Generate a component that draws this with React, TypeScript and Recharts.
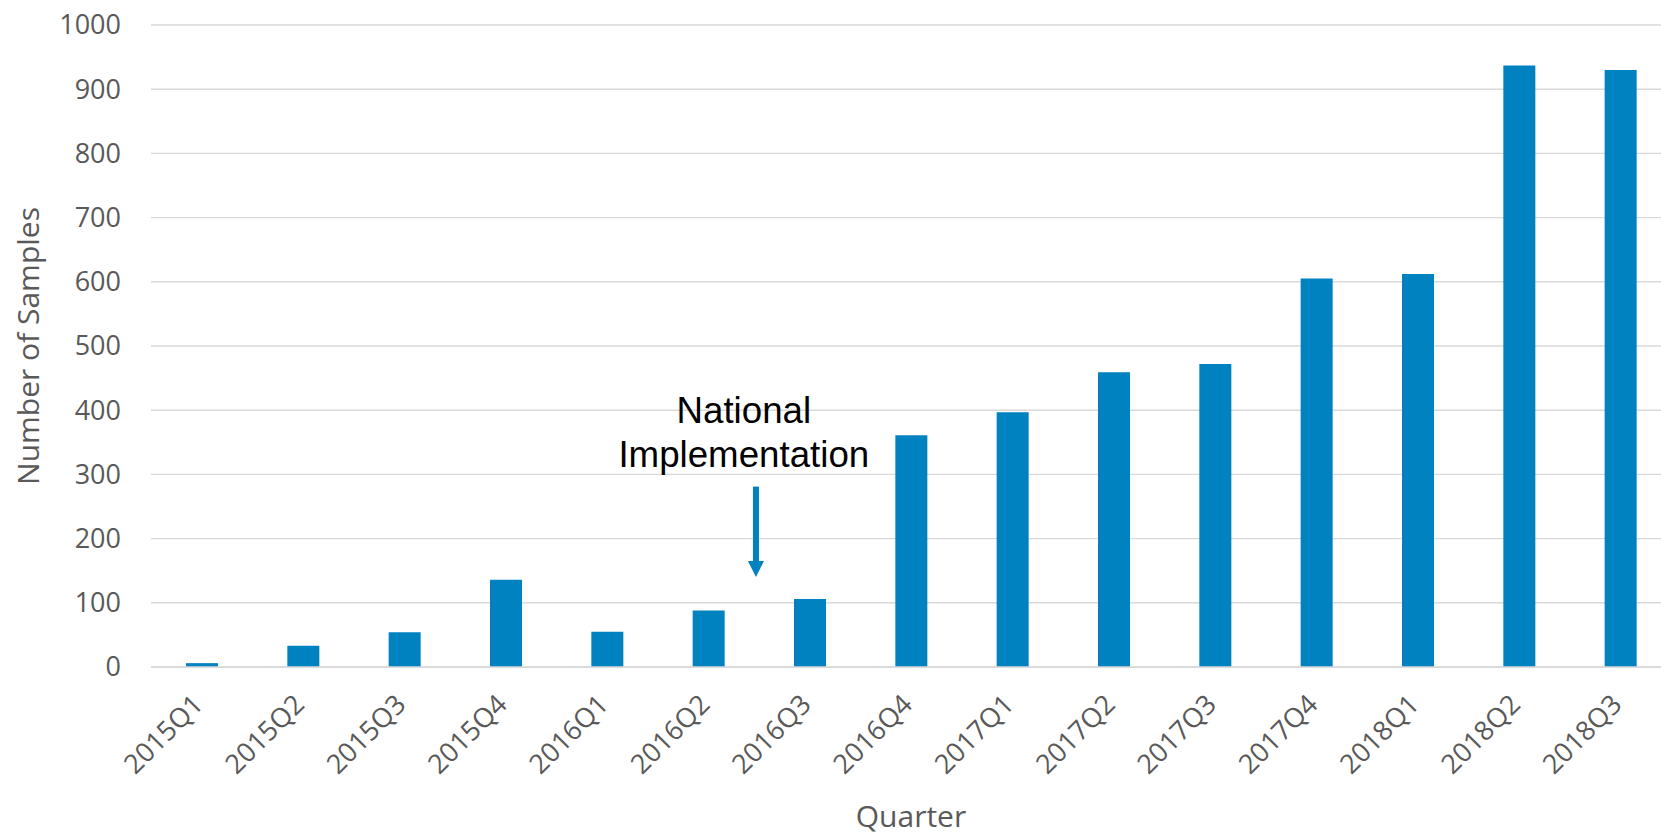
import React from "react";
import {
  Bar,
  BarChart,
  CartesianGrid,
  ReferenceDot,
  ReferenceLine,
  XAxis,
  YAxis,
} from "recharts";

const quarters = [
  "2015Q1", "2015Q2", "2015Q3", "2015Q4",
  "2016Q1", "2016Q2", "2016Q3", "2016Q4",
  "2017Q1", "2017Q2", "2017Q3", "2017Q4",
  "2018Q1", "2018Q2", "2018Q3",
];
const samples = [6, 33, 54, 136, 55, 88, 106, 361, 397, 459, 472, 605, 612, 937, 930];
const yTicks = [0, 100, 200, 300, 400, 500, 600, 700, 800, 900, 1000];

// annotation, in data units (x = position along the quarters, 0..15)
const arrowX = 5.97;
const arrowFrom = 281;
const arrowTo = 140;
const noteX = 5.85;
const noteLines = [
  { text: "National", y: 380 },
  { text: "Implementation", y: 311 },
];

const data = quarters.map((q, i) => ({ quarter: q, value: samples[i], pos: i + 0.5 }));

const tickFont = "'Open Sans', sans-serif";
const tickColor = "#595959";
const barColor = "#0082C0";

const QuarterTick = (props: any) => {
  const { x, y, payload } = props;
  return (
    <g transform={`translate(${x + 3},${y + 37})`}>
      <text
        x={0}
        y={0}
        textAnchor="end"
        transform="rotate(-45)"
        fill={tickColor}
        fontFamily={tickFont}
        fontSize={27}
      >
        {payload.value}
      </text>
    </g>
  );
};

const CountTick = (props: any) => {
  const { y, payload } = props;
  return (
    <text
      x={121}
      y={y}
      dy="0.35em"
      textAnchor="end"
      fill={tickColor}
      fontFamily={tickFont}
      fontSize={27}
    >
      {payload.value}
    </text>
  );
};

const Arrow = (props: any) => {
  const { x1, y1, x2, y2 } = props;
  const head = 16;
  return (
    <g>
      <line x1={x1} y1={y1} x2={x2} y2={y2 - head + 2} stroke={barColor} strokeWidth={6} />
      <polygon
        points={`${x2 - 8},${y2 - head} ${x2 + 8},${y2 - head} ${x2},${y2}`}
        fill={barColor}
      />
    </g>
  );
};

const noteShape = (text: string) => (props: any) => (
  <text
    x={props.cx}
    y={props.cy}
    textAnchor="middle"
    fill="#000000"
    fontFamily="'Liberation Sans', Arial, sans-serif"
    fontSize={36.7}
  >
    {text}
  </text>
);

export default function App() {
  return (
    <div
      style={{
        position: "fixed",
        left: 0,
        top: 0,
        width: 1661,
        height: 835,
        overflow: "hidden",
        background: "#ffffff",
      }}
    >
      <BarChart
        width={1680}
        height={835}
        data={data}
        margin={{ top: 25, right: 9, left: 0, bottom: 0 }}
      >
        <CartesianGrid vertical={false} stroke="#D9D9D9" strokeWidth={1.4} />
        <XAxis
          dataKey="quarter"
          height={168}
          tickLine={false}
          axisLine={{ stroke: "#D9D9D9", strokeWidth: 1.4 }}
          tickSize={0}
          interval={0}
          tick={<QuarterTick />}
        />
        <XAxis
          xAxisId="num"
          dataKey="pos"
          type="number"
          domain={[0, 15]}
          allowDataOverflow
          padding={{ left: 0, right: 0 }}
          hide
        />
        <YAxis
          width={151}
          domain={[0, 1000]}
          ticks={yTicks}
          tickLine={false}
          axisLine={false}
          tick={<CountTick />}
        />
        <Bar dataKey="value" fill={barColor} barSize={32} isAnimationActive={false} />
        <ReferenceLine
          xAxisId="num"
          segment={[
            { x: arrowX, y: arrowFrom },
            { x: arrowX, y: arrowTo },
          ]}
          shape={<Arrow />}
        />
        {noteLines.map((n) => (
          <ReferenceDot
            key={n.text}
            xAxisId="num"
            x={noteX}
            y={n.y}
            r={0}
            shape={noteShape(n.text)}
          />
        ))}
      </BarChart>
      <svg
        width={60}
        height={835}
        style={{ position: "absolute", left: 0, top: 0, pointerEvents: "none" }}
      >
        <text
          x={39}
          y={346}
          transform="rotate(-90, 39, 346)"
          textAnchor="middle"
          fill={tickColor}
          fontFamily={tickFont}
          fontSize={30}
        >
          Number of Samples
        </text>
      </svg>
      <div
        style={{
          position: "absolute",
          left: 0,
          top: 797,
          width: 1822,
          textAlign: "center",
          color: tickColor,
          fontFamily: tickFont,
          fontSize: 30,
          lineHeight: "38px",
        }}
      >
        Quarter
      </div>
    </div>
  );
}
